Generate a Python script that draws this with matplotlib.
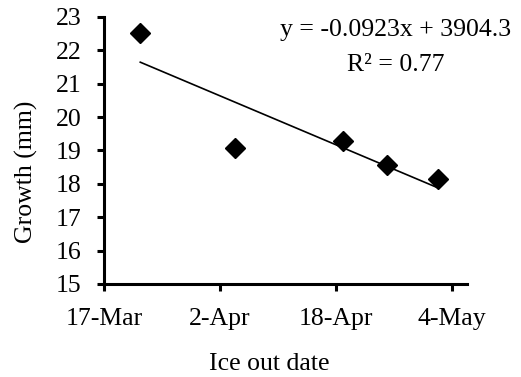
import datetime as dt
import numpy as np
import matplotlib
matplotlib.use("Agg")
import matplotlib.pyplot as plt
import matplotlib.dates as mdates

# ice-out dates and growth
dates = [dt.date(2015, 3, 22), dt.date(2015, 4, 4), dt.date(2015, 4, 19),
         dt.date(2015, 4, 25), dt.date(2015, 5, 2)]
growth = [22.51, 19.08, 19.29, 18.55, 18.15]
tick_dates = [dt.date(2015, 3, 17), dt.date(2015, 4, 2), dt.date(2015, 4, 18),
              dt.date(2015, 5, 4)]
tick_labels = ["17-Mar", "2-Apr", "18-Apr", "4-May"]

plt.rcParams['font.family'] = ['Liberation Serif', 'DejaVu Serif']
fs = 18.5

fig = plt.figure(figsize=(5.21, 3.77), dpi=100)
ax = fig.add_axes([0.1996, 0.2467, 0.6964, 0.7083])

x = mdates.date2num(dates)
ax.plot(x, growth, 'D', color='black', markersize=10.5, linestyle='none')

# linear trend line over the data range
coef = np.polyfit(x, growth, 1)
xx = np.array([x[0], x[-1]])
ax.plot(xx, np.polyval(coef, xx), color='black', lw=1.2)

ax.set_xlim(mdates.date2num(dt.date(2015, 3, 17)), mdates.date2num(dt.date(2015, 5, 6)))
ax.set_ylim(15, 23)
ax.set_xticks(mdates.date2num(tick_dates))
ax.set_xticklabels(tick_labels)
ax.set_yticks(range(15, 24))

for s in ['top', 'right']:
    ax.spines[s].set_visible(False)
for s in ['left', 'bottom']:
    ax.spines[s].set_linewidth(2.2)
ax.tick_params(axis='both', direction='out', length=5, width=2.2, labelsize=fs, pad=11)
ax.tick_params(axis='x', pad=12)

fig.text(0.05, 0.545, "Growth (mm)", fontsize=fs, rotation=90, ha='center', va='center')
fig.text(0.516, 0.0186, "Ice out date", fontsize=fs, ha='center', va='baseline')

fig.text(396 / 521, 1 - 36 / 377, "y = -0.0923x + 3904.3", fontsize=fs,
         ha='center', va='baseline')
fig.text(396 / 521, 1 - 71 / 377, "R² = 0.77", fontsize=fs, ha='center', va='baseline')

fig.savefig("out.png", dpi=100)
